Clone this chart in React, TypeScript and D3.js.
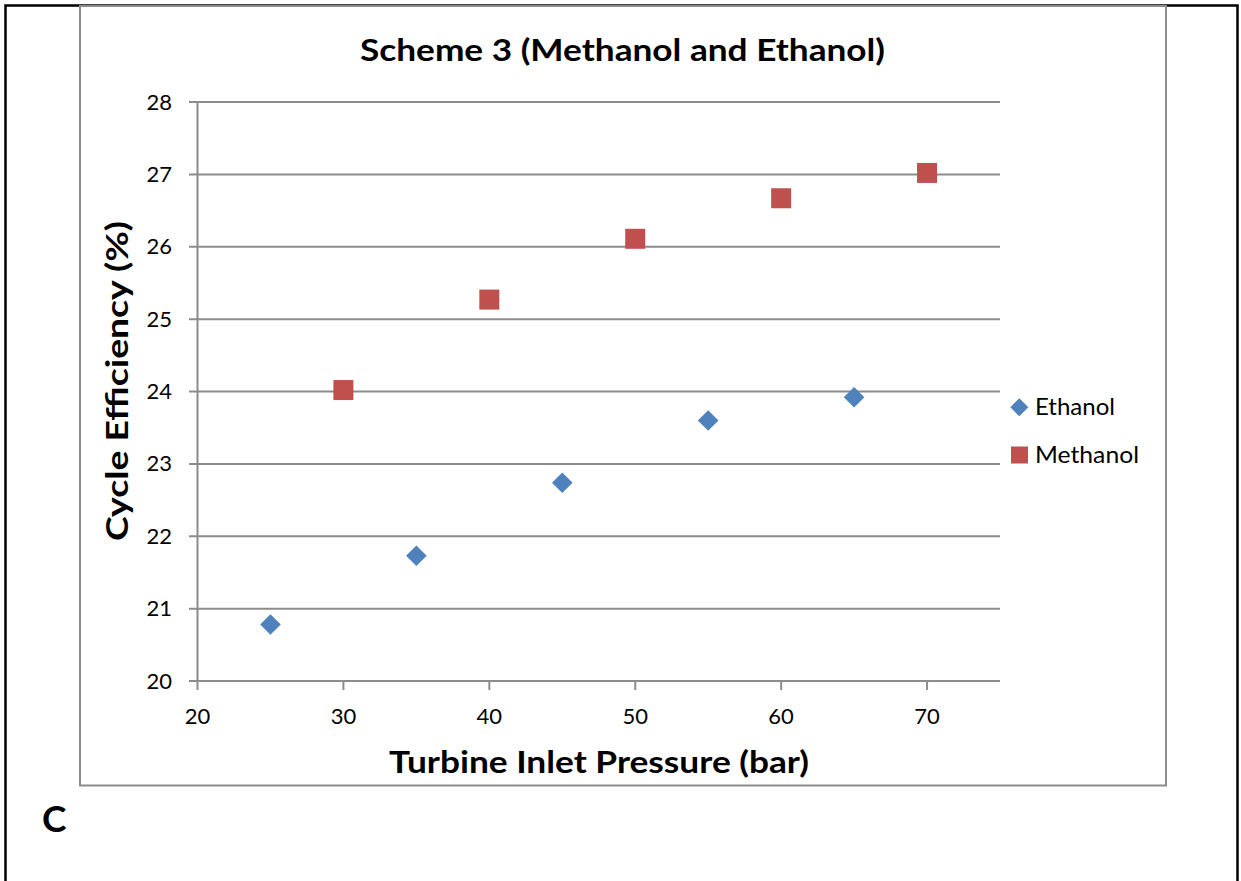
import React from "react";
import * as d3 from "d3";

const ethanolPressure = [25, 35, 45, 55, 65];
const ethanolEfficiency = [20.78, 21.73, 22.74, 23.6, 23.92];
const methanolPressure = [30, 40, 50, 60, 70];
const methanolEfficiency = [24.02, 25.27, 26.11, 26.67, 27.02];
const xTicks = [20, 30, 40, 50, 60, 70];
const yTicks = [20, 21, 22, 23, 24, 25, 26, 27, 28];

const FONT = "Lato, 'Open Sans', sans-serif";
const GRID = "#8c8c8c";
const BLUE = "#4F81BD";
const RED = "#C0504D";

export default function App() {
  const x = d3.scaleLinear().domain([20, 75]).range([197.5, 1000]);
  const y = d3.scaleLinear().domain([20, 28]).range([681, 102]);

  const diamond = (cx: number, cy: number, r: number) =>
    `M${cx},${cy - r}L${cx + r},${cy}L${cx},${cy + r}L${cx - r},${cy}Z`;

  return (
    <svg
      width={1241}
      height={881}
      style={{ position: "absolute", left: 0, top: 0, background: "#fff" }}
    >
      {/* page frame */}
      <path d="M5.5,881V5.5H1237.5V881" fill="none" stroke="#000" strokeWidth={2.5} />
      {/* chart frame */}
      <rect x={80} y={6} width={1086} height={779.5} fill="#fff" stroke={GRID} strokeWidth={2} />

      <text
        x={622.5}
        y={61}
        textAnchor="middle"
        fontFamily={FONT}
        fontWeight="bold"
        fontSize={31}
        textLength={525}
        lengthAdjust="spacingAndGlyphs"
      >
        Scheme 3 (Methanol and Ethanol)
      </text>

      {/* horizontal gridlines and y ticks */}
      {yTicks.map((t) => (
        <g key={`y${t}`}>
          <line x1={189} x2={x(75)} y1={y(t)} y2={y(t)} stroke={GRID} strokeWidth={2} />
          <text x={172} y={y(t) + 7.5} textAnchor="end" fontFamily={FONT} fontSize={22}>
            {t}
          </text>
        </g>
      ))}
      {/* y axis */}
      <line x1={x(20)} x2={x(20)} y1={y(28)} y2={y(20)} stroke={GRID} strokeWidth={2} />

      {/* x ticks */}
      {xTicks.map((t) => (
        <g key={`x${t}`}>
          <line x1={x(t)} x2={x(t)} y1={y(20)} y2={690} stroke={GRID} strokeWidth={2} />
          <text x={x(t)} y={724} textAnchor="middle" fontFamily={FONT} fontSize={22}>
            {t}
          </text>
        </g>
      ))}

      <text
        x={599}
        y={773}
        textAnchor="middle"
        fontFamily={FONT}
        fontWeight="bold"
        fontSize={31}
        textLength={420}
        lengthAdjust="spacingAndGlyphs"
      >
        Turbine Inlet Pressure (bar)
      </text>
      <text
        transform="translate(128,381) rotate(-90)"
        textAnchor="middle"
        fontFamily={FONT}
        fontWeight="bold"
        fontSize={31}
        textLength={320}
        lengthAdjust="spacingAndGlyphs"
      >
        Cycle Efficiency (%)
      </text>

      {/* series */}
      {ethanolPressure.map((p, i) => (
        <path key={`e${i}`} d={diamond(x(p), y(ethanolEfficiency[i]), 10.3)} fill={BLUE} />
      ))}
      {methanolPressure.map((p, i) => (
        <rect
          key={`m${i}`}
          x={x(p) - 10}
          y={y(methanolEfficiency[i]) - 10}
          width={20}
          height={20}
          fill={RED}
        />
      ))}

      {/* legend */}
      <path d={diamond(1019.3, 407.3, 9)} fill={BLUE} />
      <text
        x={1035}
        y={415}
        fontFamily={FONT}
        fontSize={23}
        textLength={80}
        lengthAdjust="spacingAndGlyphs"
      >
        Ethanol
      </text>
      <rect x={1011} y={446.5} width={17} height={17} fill={RED} />
      <text
        x={1035}
        y={463}
        fontFamily={FONT}
        fontSize={23}
        textLength={104}
        lengthAdjust="spacingAndGlyphs"
      >
        Methanol
      </text>

      <text x={42} y={832} fontFamily={FONT} fontWeight="bold" fontSize={37}>
        C
      </text>
    </svg>
  );
}
